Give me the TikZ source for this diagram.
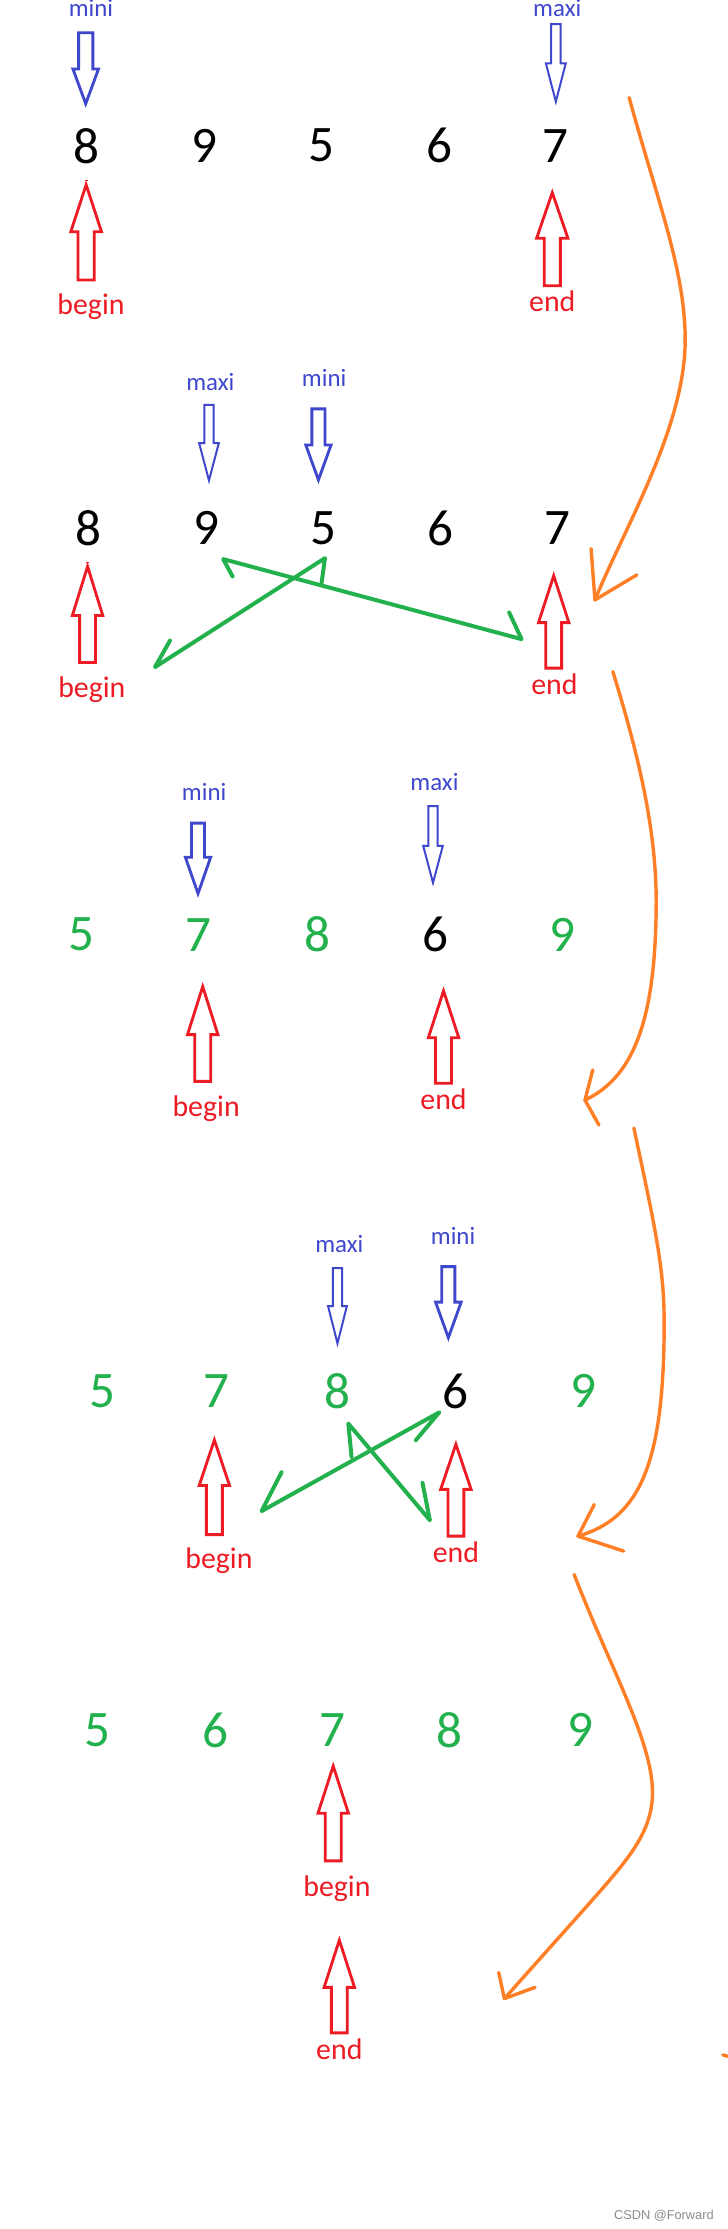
\documentclass[tikz,border=0pt]{standalone}
\usepackage{fontspec}
\setmainfont{Carlito}
\newfontfamily\wmfont{Liberation Sans}
\definecolor{pblue}{HTML}{3F48CC}
\definecolor{pred}{HTML}{ED1C24}
\definecolor{pgreen}{HTML}{22B14C}
\definecolor{porange}{HTML}{FF7F27}
\tikzset{
 digit/.style={font=\fontsize{36}{40}\selectfont, inner sep=0pt, anchor=center},
 gdigit/.style={digit, text=pgreen},
 ptr/.style={font=\fontsize{17.5}{20}\selectfont, text=pblue, inner sep=0pt, anchor=mid},
 bnd/.style={font=\fontsize{21}{24}\selectfont, text=pred, inner sep=0pt, anchor=mid},
 redarrow/.style={draw=pred, line width=2pt, line join=miter},
 bluethin/.style={draw=pblue, line width=1.4pt, line join=miter},
 bluethick/.style={draw=pblue, line width=2pt, line join=miter},
 swap/.style={draw=pgreen, line width=2.8pt, line cap=round, line join=round},
 flow/.style={draw=porange, line width=2.4pt, line cap=round, line join=round},
}
% style, x, ytail, ybase, ytip, shaft half width, head half width
\newcommand{\blockarrow}[7]{%
 \draw[#1] ({#2-#6},#3) -- ({#2+#6},#3) -- ({#2+#6},#4) -- ({#2+#7},#4) -- (#2,#5) -- ({#2-#7},#4) -- ({#2-#6},#4) -- cycle;}
\begin{document}
\begin{tikzpicture}[x=1pt,y=-1pt]
\useasboundingbox[fill=white] (0,0) rectangle (512,1568);

% ---------------- Row 1 ----------------
\node[ptr] (r1mini) at (64,9.5) {mini};
\node[ptr] (r1maxi) at (392,9) {maxi};
\blockarrow{bluethick}{60.3}{23}{48.5}{73}{5}{9}
\blockarrow{bluethin}{391}{17}{44.5}{71.5}{3.3}{7}
\node[digit] (r1a) at (61,102.5) {8};
\node[digit] (r1b) at (144,102.5) {9};
\node[digit] (r1c) at (226,102.5) {5};
\node[digit] (r1d) at (309,102.5) {6};
\node[digit] (r1e) at (391,102.5) {7};
\draw[pred, line width=1pt] (59.6,126.8) -- (61.6,126.8);
\blockarrow{redarrow}{60.6}{197}{163}{130}{5.7}{10.8}
\blockarrow{redarrow}{388.5}{201}{167.6}{135.5}{5.7}{11}
\node[bnd] (r1begin) at (64,219) {begin};
\node[bnd] (r1end) at (388.5,217) {end};

% ---------------- Row 2 ----------------
\node[ptr] (r2maxi) at (148,272) {maxi};
\node[ptr] (r2mini) at (228,269.5) {mini};
\blockarrow{bluethin}{147}{284.8}{311.8}{338}{3.3}{6.9}
\blockarrow{bluethick}{224}{287.6}{313}{337.6}{4.6}{8.9}
\node[digit] (r2a) at (62.3,371.5) {8};
\node[digit] (r2b) at (145.2,371.5) {9};
\node[digit] (r2c) at (227.2,371.5) {5};
\node[digit] (r2d) at (309.8,371.5) {6};
\node[digit] (r2e) at (391.8,371.5) {7};
\draw[pred, line width=1pt] (60.6,395.8) -- (62.6,395.8);
\blockarrow{redarrow}{61.6}{466}{433}{398.5}{5.6}{10.7}
\blockarrow{redarrow}{389.5}{470}{438}{405}{5.6}{10.7}
\node[bnd] (r2begin) at (64.6,488) {begin};
\node[bnd] (r2end) at (390,486) {end};
% swap arrows
\coordinate (gA1) at (228.6,392.6);
\coordinate (gA2) at (109,469.3);
\draw[swap] (226.2,410.2) -- (gA1) -- (gA2) -- (119.6,450.6);
\coordinate (gB1) at (157,393.3);
\coordinate (gB2) at (366.9,449.6);
\draw[swap] (163.6,405.5) -- (gB1) -- (gB2) -- (358.2,430.9);

% ---------------- Row 3 ----------------
\node[ptr] (r3mini) at (143.6,560.7) {mini};
\node[ptr] (r3maxi) at (305.6,554) {maxi};
\blockarrow{bluethick}{139.3}{579}{603}{628.6}{4.6}{8.9}
\blockarrow{bluethin}{304.6}{567}{595}{621}{3.3}{6.9}
\node[gdigit] (r3a) at (57.4,657.5) {5};
\node[gdigit] (r3b) at (139.3,657.5) {7};
\node[gdigit] (r3c) at (223,657.5) {8};
\node[digit] (r3d) at (306.6,657.5) {6};
\node[gdigit] (r3e) at (396,657.5) {9};
\blockarrow{redarrow}{142.6}{760.7}{727.8}{694}{5.6}{10.7}
\blockarrow{redarrow}{312}{762}{730}{697}{5.6}{10.7}
\node[bnd] (r3begin) at (145,783) {begin};
\node[bnd] (r3end) at (312,778) {end};

% ---------------- Row 4 ----------------
\node[ptr] (r4maxi) at (238.7,878.6) {maxi};
\node[ptr] (r4mini) at (318.7,873.2) {mini};
\blockarrow{bluethin}{237.4}{892}{918.8}{945}{3.3}{6.6}
\blockarrow{bluethick}{315.4}{891}{916}{941}{4.6}{9}
\node[gdigit] (r4a) at (72.1,978.7) {5};
\node[gdigit] (r4b) at (152.5,978.7) {7};
\node[gdigit] (r4c) at (237.7,978.7) {8};
\node[digit] (r4d) at (320.7,978.7) {6};
\node[gdigit] (r4e) at (410.5,978.7) {9};
\blockarrow{redarrow}{150.8}{1079.5}{1045}{1013}{5.6}{10.7}
\blockarrow{redarrow}{320.7}{1080.6}{1047.7}{1016}{5.6}{10.7}
\node[bnd] (r4begin) at (154,1101.3) {begin};
\node[bnd] (r4end) at (320.7,1097) {end};
% swap arrows
\coordinate (gC1) at (184,1063);
\coordinate (gC2) at (309,993.5);
\draw[swap] (198.1,1035.6) -- (gC1) -- (gC2) -- (292.5,1013.1);
\coordinate (gD1) at (245,1001.4);
\coordinate (gD2) at (302.4,1069.4);
\draw[swap] (247.3,1024.8) -- (gD1) -- (gD2) -- (297.2,1043.1);

% ---------------- Row 5 ----------------
\node[gdigit] (r5a) at (68.9,1217) {5};
\node[gdigit] (r5b) at (151.8,1217) {6};
\node[gdigit] (r5c) at (233.8,1217) {7};
\node[gdigit] (r5d) at (316.4,1217) {8};
\node[gdigit] (r5e) at (408.2,1217) {9};
\blockarrow{redarrow}{234.4}{1309}{1275.5}{1242.3}{5.6}{10.7}
\blockarrow{redarrow}{238.7}{1430}{1398}{1364.8}{5.6}{10.7}
\node[bnd] (r5begin) at (237,1331.6) {begin};
\node[bnd] (r5end) at (238.7,1446.5) {end};

% ---------------- Orange flow arrows ----------------
\coordinate (o1s) at (442.6,68.7);
\coordinate (o1m) at (482,239);
\coordinate (o1t) at (418.5,422);
\draw[flow] (o1s) .. controls (462,140) and (482,190) .. (o1m)
  .. controls (482,300) and (440,370) .. (o1t);
\draw[flow] (415.8,386) -- (o1t) -- (448,404.4);

\coordinate (o2s) at (431.1,472.4);
\coordinate (o2m) at (461.6,637.6);
\coordinate (o2t) at (411.5,773.8);
\draw[flow] (o2s) .. controls (452,540) and (462,590) .. (o2m)
  .. controls (461,712) and (448,757) .. (o2t);
\draw[flow] (417,752.6) -- (o2t) -- (421.3,791.4);

\coordinate (o3s) at (445.9,793.5);
\coordinate (o3m) at (467.2,928);
\coordinate (o3t) at (406.6,1080.6);
\draw[flow] (o3s) .. controls (460,860) and (467,890) .. (o3m)
  .. controls (467.5,1030) and (450,1068) .. (o3t);
\draw[flow] (418,1058.4) -- (o3t) -- (438.7,1091.1);

\coordinate (o4s) at (403.9,1107.6);
\coordinate (o4m) at (459,1261);
\coordinate (o4k) at (413,1340.7);
\coordinate (o4t) at (354.8,1405.9);
\draw[flow] (o4s) .. controls (430,1175) and (459,1225) .. (o4m)
  .. controls (459,1290) and (440,1310) .. (o4k) -- (o4t);
\draw[flow] (350.8,1387.5) -- (o4t) -- (376.4,1398);

\draw[flow] (508.5,1445.5) -- (512,1446.5);

% watermark
\node[font=\wmfont\fontsize{9}{10}\selectfont, text=black!45, inner sep=0pt] (wm) at (467,1559) {CSDN @Forward};
\end{tikzpicture}
\end{document}
